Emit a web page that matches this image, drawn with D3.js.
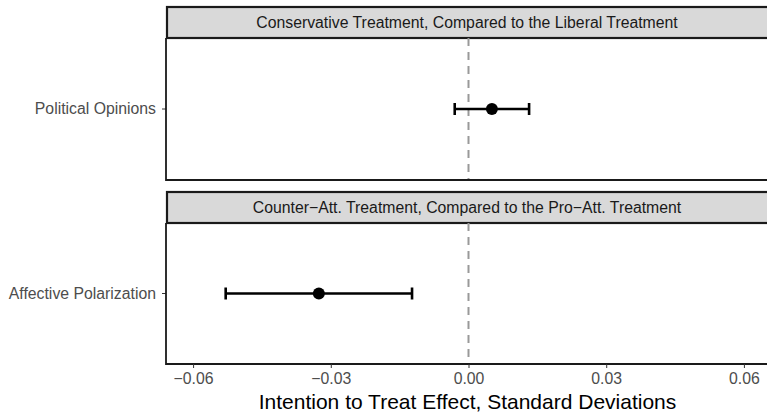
<!DOCTYPE html>
<html>
<head>
<meta charset="utf-8">
<script src="https://cdn.jsdelivr.net/npm/d3@7"></script>
<style>
  html, body { margin: 0; padding: 0; background: #fff; }
  svg { display: block; }
</style>
</head>
<body>
<svg id="chart" width="767" height="414"></svg>
<script>
// Facet titles, outcomes and estimates (ITT effects in SD units with 95% CIs)
const facets = [
  "Conservative Treatment, Compared to the Liberal Treatment",
  "Counter\u2212Att. Treatment, Compared to the Pro\u2212Att. Treatment"
];
const outcomes = ["Political Opinions", "Affective Polarization"];
const estimates = [0.0051, -0.0326];
const ciLower = [-0.0030, -0.0529];
const ciUpper = [0.0132, -0.0123];
const xTicks = [-0.06, -0.03, 0.00, 0.03, 0.06];
const xTickLabels = ["\u22120.06", "\u22120.03", "0.00", "0.03", "0.06"];
const xTitle = "Intention to Treat Effect, Standard Deviations";

const svg = d3.select("#chart");
const font = "'Liberation Sans', Arial, Helvetica, sans-serif";
const textSize = 15.8;

const panelLeft = 166, panelRight = 771;
const stripH = 31;
const panels = [
  { stripTop: 7, top: 38, bottom: 180 },
  { stripTop: 192, top: 223, bottom: 364 }
];

const x = d3.scaleLinear()
  .domain([-0.0659, 0.0659])
  .range([panelLeft, panelRight]);

panels.forEach((p, i) => {
  const g = svg.append("g");
  const y = d3.scaleBand().domain([outcomes[i]]).range([p.top, p.bottom]);
  const yc = y(outcomes[i]) + y.bandwidth() / 2;

  // strip header
  g.append("rect")
    .attr("x", panelLeft + 1).attr("y", p.stripTop)
    .attr("width", panelRight - panelLeft).attr("height", stripH)
    .attr("fill", "#d9d9d9").attr("stroke", "#1a1a1a").attr("stroke-width", 2.2);
  g.append("text")
    .attr("x", (panelLeft + 767) / 2 + 0.5).attr("y", p.stripTop + stripH / 2 + 5.5)
    .attr("text-anchor", "middle")
    .attr("font-family", font).attr("font-size", textSize).attr("fill", "#1a1a1a")
    .text(facets[i]);

  // zero reference line
  g.append("line")
    .attr("x1", x(0)).attr("x2", x(0))
    .attr("y1", p.top).attr("y2", p.bottom)
    .attr("stroke", "#999999").attr("stroke-width", 2)
    .attr("stroke-dasharray", "8,6");

  // y axis
  const yAxis = g.append("g").attr("transform", `translate(${panelLeft},0)`)
    .call(d3.axisLeft(y).tickSize(4).tickPadding(6));
  yAxis.select(".domain").remove();
  yAxis.selectAll(".tick line").attr("stroke", "#333").attr("stroke-width", 1);
  yAxis.selectAll(".tick text")
    .attr("font-family", font).attr("font-size", textSize).attr("fill", "#4d4d4d");

  // panel axis lines (left and bottom)
  g.append("path")
    .attr("d", `M${panelLeft},${p.top}V${p.bottom}H${panelRight}`)
    .attr("fill", "none").attr("stroke", "#1a1a1a").attr("stroke-width", 1.8);

  // confidence interval with caps
  const capH = 6;
  g.append("line")
    .attr("x1", x(ciLower[i])).attr("x2", x(ciUpper[i]))
    .attr("y1", yc).attr("y2", yc)
    .attr("stroke", "#000").attr("stroke-width", 2.6);
  [ciLower[i], ciUpper[i]].forEach(v => {
    g.append("line")
      .attr("x1", x(v)).attr("x2", x(v))
      .attr("y1", yc - capH).attr("y2", yc + capH)
      .attr("stroke", "#000").attr("stroke-width", 2.6);
  });
  g.append("circle")
    .attr("cx", x(estimates[i])).attr("cy", yc).attr("r", 6)
    .attr("fill", "#000");

  // x axis on the bottom panel only
  if (i === panels.length - 1) {
    const xAxis = g.append("g").attr("transform", `translate(0,${p.bottom})`)
      .call(d3.axisBottom(x).tickValues(xTicks)
        .tickFormat((d, j) => xTickLabels[j]).tickSize(4).tickPadding(5));
    xAxis.select(".domain").remove();
    xAxis.selectAll(".tick line").attr("stroke", "#333").attr("stroke-width", 1);
    xAxis.selectAll(".tick text")
      .attr("font-family", font).attr("font-size", textSize).attr("fill", "#4d4d4d");
  }
});

svg.append("text")
  .attr("x", (panelLeft + 767) / 2 + 1).attr("y", 409)
  .attr("text-anchor", "middle")
  .attr("font-family", font).attr("font-size", 21).attr("fill", "#000")
  .text(xTitle);
</script>
</body>
</html>
